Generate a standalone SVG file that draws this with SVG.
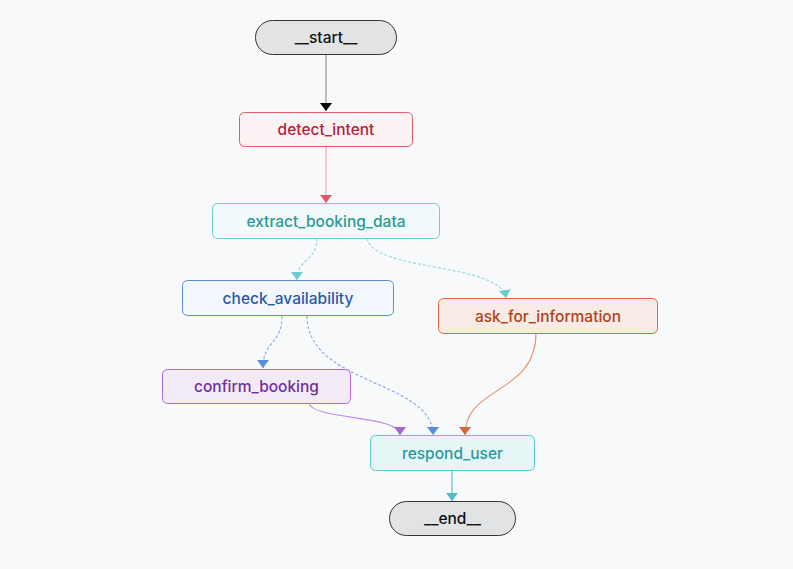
<svg xmlns="http://www.w3.org/2000/svg" width="793" height="569" viewBox="0 0 793 569">
<defs>
<style>
text{font-family:Inter,"Noto Sans","Liberation Sans",sans-serif;font-size:15.5px;font-weight:500;text-anchor:middle;dominant-baseline:central}
.e{fill:none;stroke-width:1.1}
.d{stroke-dasharray:3 2}
</style>
<marker id="aK" viewBox="0 0 8 12" refX="8" refY="6" markerWidth="8" markerHeight="12" markerUnits="userSpaceOnUse" orient="auto"><path d="M0,0 L8,6 L0,12 z" fill="#000"/></marker>
<marker id="aR" viewBox="0 0 8 12" refX="8" refY="6" markerWidth="8" markerHeight="12" markerUnits="userSpaceOnUse" orient="auto"><path d="M0,0 L8,6 L0,12 z" fill="#e0566a"/></marker>
<marker id="aT" viewBox="0 0 8 12" refX="8" refY="6" markerWidth="8" markerHeight="12" markerUnits="userSpaceOnUse" orient="auto"><path d="M0,0 L8,6 L0,12 z" fill="#68cdd0"/></marker>
<marker id="aB" viewBox="0 0 8 12" refX="8" refY="6" markerWidth="8" markerHeight="12" markerUnits="userSpaceOnUse" orient="auto"><path d="M0,0 L8,6 L0,12 z" fill="#5b8ed8"/></marker>
<marker id="aP" viewBox="0 0 8 12" refX="8" refY="6" markerWidth="8" markerHeight="12" markerUnits="userSpaceOnUse" orient="auto"><path d="M0,0 L8,6 L0,12 z" fill="#a765d4"/></marker>
<marker id="aO" viewBox="0 0 8 12" refX="8" refY="6" markerWidth="8" markerHeight="12" markerUnits="userSpaceOnUse" orient="auto"><path d="M0,0 L8,6 L0,12 z" fill="#dc643a"/></marker>
<marker id="aC" viewBox="0 0 8 12" refX="8" refY="6" markerWidth="8" markerHeight="12" markerUnits="userSpaceOnUse" orient="auto"><path d="M0,0 L8,6 L0,12 z" fill="#4dbcc8"/></marker>
</defs>
<rect width="793" height="569" fill="#f8f9fb"/>
<g id="edges">
<path class="e" d="M326,54 L326,111" stroke="#8a8a8a" marker-end="url(#aK)"/>
<path class="e" d="M326,146 L326,203" stroke="#eea0aa" marker-end="url(#aR)"/>
<path class="e d" d="M317,238 C317,262 297,258 297,280" stroke="#8ad8da" marker-end="url(#aT)"/>
<path class="e d" d="M367,238 C372,272 500,262 506,298" stroke="#8ad8da" marker-end="url(#aT)"/>
<path class="e d" d="M282,316 C282,345 263,340 263,368" stroke="#86a9e2" marker-end="url(#aB)"/>
<path class="e d" d="M307,316 C307,385 433,380 433,435" stroke="#86a9e2" marker-end="url(#aB)"/>
<path class="e" d="M309,403 C312,420 400,415 400,435" stroke="#c08be0" marker-end="url(#aP)"/>
<path class="e" d="M536,333 C536,395 465,385 465,435" stroke="#e8906e" marker-end="url(#aO)"/>
<path class="e" d="M452,470 L452,501" stroke="#4dbcc8" marker-end="url(#aC)"/>
</g>
<g id="start"><rect x="255.5" y="20.5" width="141" height="34" rx="17" fill="#e2e3e5" stroke="#333"/><text x="326" y="37.5" fill="#111">__start__</text></g>
<g id="detect_intent"><rect x="239.5" y="112.5" width="173" height="34" rx="5" fill="#fbf2f3" stroke="#e35d6a"/><text x="326" y="129.5" fill="#b5213a">detect_intent</text></g>
<g id="extract_booking_data"><rect x="212.5" y="203.5" width="227" height="35" rx="5" fill="#f1f9fa" stroke="#6fd0d2"/><text x="326" y="221" fill="#2a9a94">extract_booking_data</text></g>
<g id="check_availability"><rect x="182.5" y="280.5" width="211" height="35" rx="5" fill="#f3f6fc" stroke="#5d8dd8"/><text x="288" y="298" fill="#2b5aa8">check_availability</text></g>
<g id="ask_for_information"><rect x="438.5" y="298.5" width="219" height="35" rx="5" fill="#f8eae5" stroke="#e06a3c"/><text x="548" y="316" fill="#b0431c">ask_for_information</text></g>
<g id="confirm_booking"><rect x="162.5" y="369.5" width="188" height="34" rx="5" fill="#f3eaf8" stroke="#b06ad8"/><text x="256.5" y="386.5" fill="#722f9e">confirm_booking</text></g>
<g id="respond_user"><rect x="370.5" y="435.5" width="164" height="35" rx="5" fill="#e6f5f6" stroke="#5cc6d2"/><text x="452.5" y="453" fill="#2a9a9e">respond_user</text></g>
<g id="end"><rect x="389.5" y="501.5" width="126" height="34" rx="17" fill="#e2e3e5" stroke="#333"/><text x="452.5" y="518.5" fill="#111">__end__</text></g>
</svg>
